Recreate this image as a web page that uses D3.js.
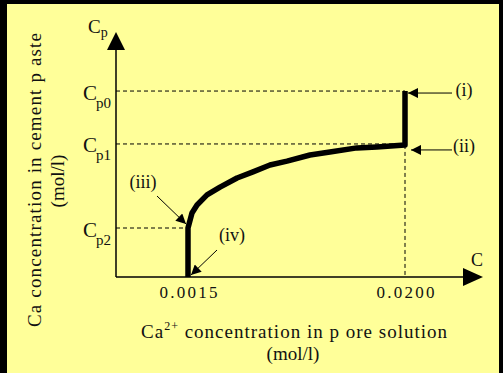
<!DOCTYPE html>
<html>
<head>
<meta charset="utf-8">
<script src="https://cdn.jsdelivr.net/npm/d3@7"></script>
<style>
  body { margin: 0; background: #000; }
  svg { display: block; font-family: "Liberation Serif", "DejaVu Serif", serif; }
</style>
</head>
<body>
<div id="canvas"></div>
<script>
// schematic values (Cp in relative units, 0 = origin of the Cp axis)
const xTicks = [0.0015, 0.0200];
const xTickLabels = ["0.0015", "0.0200"];
const cpLevels = [0.2, 0.543, 0.759];
const cpNames = ["p2", "p1", "p0"];

// Ca in pore solution (mol/l) vs Ca in cement paste
const curveC = [0.0015, 0.0015, 0.00184, 0.00227, 0.00312, 0.00423, 0.00568, 0.00704,
  0.00849, 0.00994, 0.0119, 0.0136, 0.0159, 0.0176, 0.0200, 0.0200];
const curveCp = [0, 0.2, 0.261, 0.294, 0.335, 0.367, 0.404, 0.429,
  0.457, 0.473, 0.498, 0.510, 0.527, 0.531, 0.539, 0.759];

// labelled points: [C, Cp]
const notes = ["(i)", "(ii)", "(iii)", "(iv)"];
const noteC = [0.0200, 0.0200, 0.0015, 0.0015];
const noteCp = [0.759, 0.539, 0.2, 0];

const width = 503;
const height = 373;

const svg = d3.select("#canvas").append("svg")
  .attr("width", width)
  .attr("height", height);

svg.append("rect").attr("width", width).attr("height", height).attr("fill", "#000");
svg.append("rect").attr("x", 7).attr("y", 4)
  .attr("width", 492).attr("height", height - 4)
  .attr("fill", "#ffff99");

const x = d3.scaleLinear().domain([0.0015, 0.0200]).range([188, 405]);
const y = d3.scaleLinear().domain([0, 1]).range([277, 32]);
const x0 = 116, xEnd = 483;

const defs = svg.append("defs");
defs.append("marker").attr("id", "head")
  .attr("viewBox", "0 0 10 10").attr("refX", 10).attr("refY", 5)
  .attr("markerWidth", 13).attr("markerHeight", 10)
  .attr("markerUnits", "userSpaceOnUse")
  .attr("orient", "auto")
  .append("path").attr("d", "M0,0L10,5L0,10Z").attr("fill", "#000");

// dashed guides
const dash = svg.append("g").attr("stroke", "#000").attr("stroke-width", 1)
  .attr("stroke-dasharray", "4,3").attr("fill", "none");
dash.append("line").attr("x1", x0).attr("x2", x(0.02)).attr("y1", y(cpLevels[2])).attr("y2", y(cpLevels[2]));
dash.append("line").attr("x1", x0).attr("x2", x(0.02)).attr("y1", y(cpLevels[1])).attr("y2", y(cpLevels[1]));
dash.append("line").attr("x1", x0).attr("x2", x(0.0015)).attr("y1", y(cpLevels[0])).attr("y2", y(cpLevels[0]));
dash.append("line").attr("x1", x(0.02)).attr("x2", x(0.02)).attr("y1", y(curveCp[14])).attr("y2", y(0));

// axes with arrowheads
svg.append("line").attr("x1", x0).attr("x2", x0).attr("y1", y(0)).attr("y2", y(1) + 17)
  .attr("stroke", "#000").attr("stroke-width", 1.5);
svg.append("path").attr("d", `M${x0},${y(1)}L${x0 - 9},${y(1) + 18}L${x0 + 9},${y(1) + 18}Z`).attr("fill", "#000");
svg.append("line").attr("x1", x0).attr("x2", xEnd - 18).attr("y1", y(0)).attr("y2", y(0))
  .attr("stroke", "#000").attr("stroke-width", 1.5);
svg.append("path").attr("d", `M${xEnd},${y(0)}L${xEnd - 20},${y(0) - 9}L${xEnd - 20},${y(0) + 9}Z`).attr("fill", "#000");

// x tick labels
const xAxis = svg.append("g").attr("transform", `translate(0,${y(0)})`)
  .call(d3.axisBottom(x).tickValues(xTicks).tickSize(0).tickPadding(0)
    .tickFormat((d, i) => xTickLabels[i]));
xAxis.select(".domain").remove();
xAxis.selectAll("text")
  .attr("dy", null).attr("y", 21)
  .attr("font-size", 17).attr("font-family", "Liberation Serif")
  .attr("fill", "#111")
  .attr("textLength", 58).attr("lengthAdjust", "spacing");

// y tick labels Cp0, Cp1, Cp2
const yAxis = svg.append("g").attr("transform", `translate(${x0},0)`)
  .call(d3.axisLeft(y).tickValues(cpLevels).tickSize(0).tickFormat(""));
yAxis.select(".domain").remove();
yAxis.selectAll(".tick text").each(function (d, i) {
  const t = d3.select(this).attr("x", -33).attr("dy", null).attr("y", 8)
    .attr("text-anchor", "start").attr("font-family", "Liberation Serif").attr("fill", "#111");
  t.append("tspan").attr("font-size", 21).text("C");
  t.append("tspan").attr("font-size", 15).attr("dy", 8).attr("dx", -1).text(cpNames[i]);
});

// axis names
const cpName = svg.append("text").attr("x", 88).attr("y", 33).attr("fill", "#111");
cpName.append("tspan").attr("font-size", 19).text("C");
cpName.append("tspan").attr("font-size", 14).attr("dy", 4).text("p");
svg.append("text").attr("x", 471).attr("y", 266).attr("font-size", 18).attr("fill", "#111").text("C");

// curve
const line = d3.line().x(d => x(d[0])).y(d => y(d[1]));
svg.append("path")
  .datum(curveC.map((c, i) => [c, curveCp[i]]))
  .attr("d", line)
  .attr("fill", "none").attr("stroke", "#000")
  .attr("stroke-width", 5.5).attr("stroke-linejoin", "round");

// annotations: label offset and arrow tip offset in px from the point
const labelDx = [59, 59, -45, 44];
const labelDy = [5, 7, -40, -36];
const tipDx = [3, 6, -2, 3];
const tipDy = [2, 5, -4, -2];
const tailDx = [47, 47, -31, 29];
const tailDy = [2, 5, -32, -27];
notes.forEach((n, i) => {
  const px = x(noteC[i]), py = y(noteCp[i]);
  svg.append("line")
    .attr("x1", px + tailDx[i]).attr("y1", py + tailDy[i])
    .attr("x2", px + tipDx[i]).attr("y2", py + tipDy[i])
    .attr("stroke", "#000").attr("stroke-width", 1)
    .attr("marker-end", "url(#head)");
  svg.append("text").attr("x", px + labelDx[i]).attr("y", py + labelDy[i])
    .attr("text-anchor", "middle").attr("font-size", 18).attr("fill", "#111").text(n);
});

// axis titles
const xt = svg.append("text").attr("x", 294).attr("y", 338)
  .attr("text-anchor", "middle").attr("font-size", 19).attr("fill", "#111")
  .attr("textLength", 306).attr("lengthAdjust", "spacing");
xt.append("tspan").text("Ca");
xt.append("tspan").attr("font-size", 12).attr("dy", -8).text("2+");
xt.append("tspan").attr("dy", 8).text(" concentration in p ore solution");
svg.append("text").attr("x", 293).attr("y", 360)
  .attr("text-anchor", "middle").attr("font-size", 19).attr("fill", "#111").text("(mol/l)");

svg.append("text").attr("transform", "translate(41,180) rotate(-90)")
  .attr("text-anchor", "middle").attr("font-size", 19).attr("fill", "#111")
  .attr("textLength", 294).attr("lengthAdjust", "spacing")
  .text("Ca concentration in cement p aste");
svg.append("text").attr("transform", "translate(64,181) rotate(-90)")
  .attr("text-anchor", "middle").attr("font-size", 19).attr("fill", "#111").text("(mol/l)");
</script>
</body>
</html>
